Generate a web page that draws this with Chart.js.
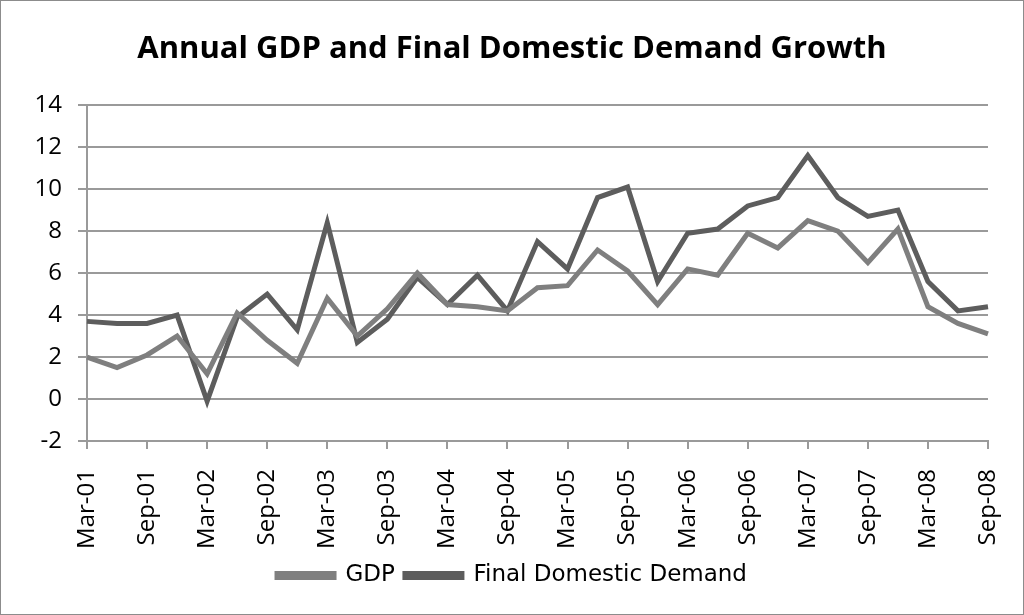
<!DOCTYPE html>
<html>
<head>
<meta charset="utf-8">
<script src="https://cdn.jsdelivr.net/npm/chart.js@4"></script>
<style>
  body { margin: 0; background: #fff; }
  #wrap { width: 1024px; height: 615px; box-sizing: border-box; border: 1px solid #8c8c8c; position: relative; }
</style>
</head>
<body>
<div id="wrap"><canvas id="growthChart"></canvas></div>
<script>
const quarters = [
  "Mar-01", "Jun-01", "Sep-01", "Dec-01",
  "Mar-02", "Jun-02", "Sep-02", "Dec-02",
  "Mar-03", "Jun-03", "Sep-03", "Dec-03",
  "Mar-04", "Jun-04", "Sep-04", "Dec-04",
  "Mar-05", "Jun-05", "Sep-05", "Dec-05",
  "Mar-06", "Jun-06", "Sep-06", "Dec-06",
  "Mar-07", "Jun-07", "Sep-07", "Dec-07",
  "Mar-08", "Jun-08", "Sep-08"
];
const gdp = [
  2.0, 1.5, 2.1, 3.0,
  1.2, 4.1, 2.8, 1.7,
  4.8, 3.0, 4.3, 6.0,
  4.5, 4.4, 4.2, 5.3,
  5.4, 7.1, 6.1, 4.5,
  6.2, 5.9, 7.9, 7.2,
  8.5, 8.0, 6.5, 8.1,
  4.4, 3.6, 3.1
];
const finalDemand = [
  3.7, 3.6, 3.6, 4.0,
  -0.1, 3.9, 5.0, 3.3,
  8.4, 2.7, 3.8, 5.8,
  4.5, 5.9, 4.2, 7.5,
  6.2, 9.6, 10.1, 5.6,
  7.9, 8.1, 9.2, 9.6,
  11.6, 9.6, 8.7, 9.0,
  5.6, 4.2, 4.4
];
const yTicks = [-2, 0, 2, 4, 6, 8, 10, 12, 14];

const gridGrey = "#9a9a9a";

new Chart(document.getElementById("growthChart"), {
  type: "line",
  data: {
    labels: quarters,
    datasets: [
      {
        label: "GDP",
        data: gdp,
        borderColor: "#7f7f7f",
        backgroundColor: "#7f7f7f",
        borderWidth: 5,
        pointRadius: 0,
        tension: 0,
      },
      {
        label: "Final Domestic Demand",
        data: finalDemand,
        borderColor: "#5d5d5d",
        backgroundColor: "#5d5d5d",
        borderWidth: 5,
        pointRadius: 0,
        tension: 0,
      },
    ],
  },
  options: {
    responsive: true,
    maintainAspectRatio: false,
    animation: false,
    layout: { padding: { left: 20, right: 20, top: 0, bottom: 17 } },
    plugins: {
      title: {
        display: true,
        text: "Annual GDP and Final Domestic Demand Growth",
        color: "#000",
        font: { family: "Open Sans", size: 31, weight: "bold" },
        padding: { top: 30, bottom: 37 },
      },
      legend: {
        position: "bottom",
        labels: {
          color: "#000",
          font: { family: "DejaVu Sans", size: 23 },
          boxWidth: 57,
          boxHeight: 4,
          padding: 10,
        },
      },
      tooltip: { enabled: false },
    },
    scales: {
      x: {
        offset: false,
        border: { color: gridGrey, width: 2 },
        grid: {
          drawOnChartArea: false,
          drawTicks: true,
          tickLength: 8,
          lineWidth: 2,
          color: (ctx) => (ctx.index % 2 === 0 ? gridGrey : "rgba(0,0,0,0)"),
        },
        ticks: {
          autoSkip: false,
          maxRotation: 90,
          minRotation: 90,
          color: "#000",
          font: { family: "Open Sans", size: 24 },
          padding: 20,
          callback: function (value, index) {
            return index % 2 === 0 ? quarters[index] : "";
          },
        },
        afterFit: function (axis) {
          axis.height = 113;
          axis.paddingLeft = 0;
          axis.paddingRight = 0;
        },
      },
      y: {
        min: yTicks[0],
        max: yTicks[yTicks.length - 1],
        border: { color: gridGrey, width: 2 },
        grid: { color: gridGrey, lineWidth: 2, tickLength: 9 },
        afterBuildTicks: function (axis) {
          axis.ticks = yTicks.map((v) => ({ value: v }));
        },
        ticks: {
          color: "#000",
          font: { family: "Open Sans", size: 24 },
          padding: 16,
        },
        afterFit: function (axis) {
          axis.width = 66;
        },
      },
      // empty strip on the right so the title stays centred on the page
      spacer: {
        type: "linear",
        position: "right",
        grid: { display: false },
        border: { display: false },
        ticks: { display: false },
        afterFit: function (axis) {
          axis.width = 15;
        },
      },
    },
  },
});
</script>
</body>
</html>
